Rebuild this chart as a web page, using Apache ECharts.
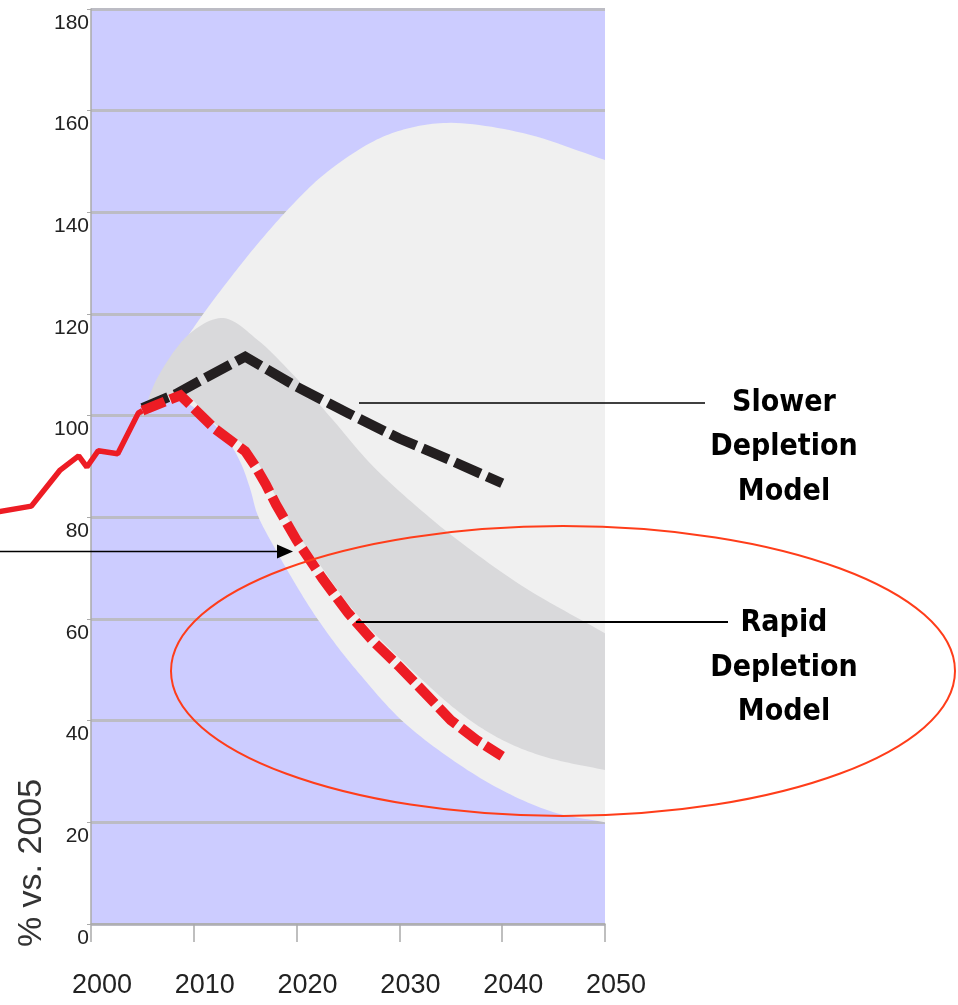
<!DOCTYPE html>
<html><head><meta charset="utf-8">
<script src="https://cdn.jsdelivr.net/npm/echarts@6/dist/echarts.min.js"></script>
<style>html,body{margin:0;padding:0;background:#fff}#c{width:958px;height:1005px}</style>
</head><body><div id="c"></div>
<script>
// ---- data ----
const histYears  = [1991, 1994.2, 1997, 1998.8, 1999.6, 2000.7, 2002.6, 2004.6, 2005];
const histValues = [81.1, 82.2, 89.3, 92.1, 89.9, 93.1, 92.5, 100.5, 101];

const rapidYears  = [2005, 2008.7, 2012, 2015, 2016, 2017, 2018, 2020, 2022.5, 2025, 2027.5, 2030, 2032.5, 2035, 2037.5, 2040];
const rapidValues = [101, 104, 97.5, 93, 90, 86.5, 82.5, 75.5, 68, 61.2, 55.5, 50.6, 45.4, 40.1, 36.2, 33];

const slowYears  = [2005, 2008.3, 2011, 2015, 2020, 2025, 2030, 2035, 2040];
const slowValues = [101.5, 104.3, 107.3, 111.6, 105.7, 100.5, 95.5, 91.2, 86.7];

const lightUpper = [[2005,100],[2007.5,109.6],[2010.7,119.4],[2013.9,128],[2016.5,134.5],[2019.5,141.3],[2022.7,147.5],[2027.5,154],[2031,156.6],[2035,157.6],[2042,155.6],[2050,150.3]];
const lightLower = [[2005,100],[2008.5,103],[2011,100],[2013,96],[2014.5,91],[2015.5,85.5],[2016.2,80.5],[2018,73.5],[2019.5,68.2],[2021.5,61.6],[2024,54.5],[2026,49.5],[2030.1,40.3],[2035,32.5],[2040,26.3],[2045,22],[2050,20]];

const darkUpper = [[2005,100],[2006.5,107.6],[2009.7,116.3],[2012.9,119.2],[2016.2,114.9],[2019.5,108.4],[2023.3,99.7],[2027.5,89.9],[2032.4,80.9],[2035.7,75.5],[2042.1,66.3],[2050,57.2]];
const darkLower = [[2005,100],[2008.7,104.5],[2012,98.5],[2015,94],[2016,91.5],[2017,88],[2018,84],[2020,77],[2022.5,70],[2025,63],[2027.5,57.3],[2030,52.3],[2032.5,47.5],[2035,43],[2037.5,39.2],[2040,36.2],[2042.5,34],[2045.4,32.2],[2050,30.3]];

const yTitle = '% vs. 2005';
const slowLabel = ['Slower', 'Depletion', 'Model'];
const rapidLabel = ['Rapid', 'Depletion', 'Model'];

// ---- chart ----
const chart = echarts.init(document.getElementById('c'), null, {renderer: 'canvas'});

function zip(xs, ys) { return xs.map((x, i) => [x, ys[i]]); }

// centripetal Catmull-Rom through pixel points
function spline(pts, steps) {
  const n = pts.length;
  if (n < 3) return pts.slice();
  const P = [[2 * pts[0][0] - pts[1][0], 2 * pts[0][1] - pts[1][1]]]
    .concat(pts)
    .concat([[2 * pts[n - 1][0] - pts[n - 2][0], 2 * pts[n - 1][1] - pts[n - 2][1]]]);
  const out = [pts[0]];
  const d = (a, b) => Math.max(1e-6, Math.pow(Math.hypot(b[0] - a[0], b[1] - a[1]), 0.5));
  for (let i = 1; i < P.length - 2; i++) {
    const p0 = P[i - 1], p1 = P[i], p2 = P[i + 1], p3 = P[i + 2];
    const t0 = 0, t1 = t0 + d(p0, p1), t2 = t1 + d(p1, p2), t3 = t2 + d(p2, p3);
    for (let s = 1; s <= steps; s++) {
      const t = t1 + (t2 - t1) * s / steps;
      const lerp = (a, b, ta, tb) => [
        ((tb - t) * a[0] + (t - ta) * b[0]) / (tb - ta),
        ((tb - t) * a[1] + (t - ta) * b[1]) / (tb - ta)
      ];
      const A1 = lerp(p0, p1, t0, t1), A2 = lerp(p1, p2, t1, t2), A3 = lerp(p2, p3, t2, t3);
      const B1 = lerp(A1, A2, t0, t2), B2 = lerp(A2, A3, t1, t3);
      out.push(lerp(B1, B2, t1, t2));
    }
  }
  return out;
}

function band(upper, lower, color) {
  const pts = upper.concat(lower);
  const nu = upper.length, n = pts.length;
  return {
    type: 'custom',
    clip: true,
    data: pts,
    z: 2,
    silent: true,
    renderItem: function (params, api) {
      if (params.dataIndex !== 0) return null;
      const up = [], lo = [];
      for (let i = 0; i < n; i++) {
        const c = api.coord([api.value(0, i), api.value(1, i)]);
        (i < nu ? up : lo).push(c);
      }
      const poly = spline(up, 12).concat(spline(lo, 12).reverse());
      return { type: 'polygon', shape: { points: poly }, style: { fill: color, stroke: null } };
    }
  };
}

const labelFont = '"Liberation Sans", Arial, sans-serif';
const annFont = '"DejaVu Sans Condensed", "Liberation Sans Narrow", sans-serif';

function annText(lines, x, ys) {
  return lines.map((t, i) => ({
    type: 'text', x: x, y: ys[i], z: 100,
    style: { text: t, fontSize: 30, fontWeight: 'bold', fontFamily: annFont, fill: '#000', align: 'center', verticalAlign: 'middle' }
  }));
}

const option = {
  animation: false,
  backgroundColor: '#fff',
  grid: [
    { left: 91, right: 353, top: 9, bottom: 81, show: true, backgroundColor: '#ccccff', borderWidth: 0 },
    { left: 0, right: 353, top: 9, bottom: 81, show: false }
  ],
  xAxis: [{
    type: 'value', min: 2000, max: 2050, interval: 10, gridIndex: 0,
    axisLine: { show: true, lineStyle: { color: '#aaaaaa', width: 1.5 } },
    axisTick: { show: true, length: 18, lineStyle: { color: '#aaaaaa', width: 1.5 } },
    splitLine: { show: false },
    axisLabel: { margin: 48, fontSize: 27, color: '#222', fontFamily: labelFont, padding: [0, 0, 0, 22], formatter: v => String(v) }
  }, {
    type: 'value', gridIndex: 1, min: 2000 - 91 * 50 / 514, max: 2050, show: false
  }],
  yAxis: [{
    type: 'value', min: 0, max: 180, interval: 20, gridIndex: 0,
    axisLine: { show: true, lineStyle: { color: '#aaaaaa', width: 1.5 } },
    axisTick: { show: true, length: 4, lineStyle: { color: '#aaaaaa', width: 1 } },
    splitLine: { show: true, lineStyle: { color: '#bcbcc4', width: 3 } },
    axisLabel: { margin: 2, fontSize: 21, color: '#222', fontFamily: labelFont, verticalAlign: 'top', lineHeight: 28, showMaxLabel: true, showMinLabel: true }
  }, {
    type: 'value', gridIndex: 1, min: 0, max: 180, show: false
  }],
  series: [
    band(lightUpper, lightLower, '#f0f0f0'),
    band(darkUpper, darkLower, '#d9d9db'),
    {
      type: 'line', data: zip(slowYears, slowValues), symbol: 'none', z: 5, silent: true,
      lineStyle: { color: '#231f20', width: 10, type: [28, 7], cap: 'butt', join: 'miter' }
    },
    {
      type: 'line', data: zip(histYears, histValues), symbol: 'none', z: 6, silent: true,
      xAxisIndex: 1, yAxisIndex: 1,
      lineStyle: { color: '#ed1c24', width: 5.5 }
    },
    {
      type: 'line', data: zip(rapidYears, rapidValues), symbol: 'none', z: 7, silent: true,
      lineStyle: { color: '#ed1c24', width: 10, type: [24, 6], cap: 'butt', join: 'miter' }
    }
  ],
  graphic: [
    { type: 'text', x: 32, y: 863, rotation: Math.PI / 2, z: 100,
      style: { text: yTitle, fontSize: 34, fontFamily: labelFont, fill: '#333', align: 'center', verticalAlign: 'middle' } },
    { type: 'line', z: 100, shape: { x1: 359, y1: 403, x2: 705, y2: 403 }, style: { stroke: '#000', lineWidth: 1.5 } },
    { type: 'line', z: 100, shape: { x1: 356, y1: 622, x2: 728, y2: 622 }, style: { stroke: '#000', lineWidth: 2 } },
    { type: 'line', z: 100, shape: { x1: 0, y1: 551.5, x2: 280, y2: 551.5 }, style: { stroke: '#000', lineWidth: 1.5 } },
    { type: 'polygon', z: 100, shape: { points: [[277, 544.5], [293, 551.5], [277, 558.5]] }, style: { fill: '#000' } },
    { type: 'ellipse', z: 100, shape: { cx: 563, cy: 671, rx: 392, ry: 145 }, style: { stroke: '#ff3d1a', lineWidth: 2, fill: null } }
  ].concat(annText(slowLabel, 784, [403, 447, 492]))
   .concat(annText(rapidLabel, 784, [623, 668, 712]))
};
chart.setOption(option);
</script>
</body></html>
